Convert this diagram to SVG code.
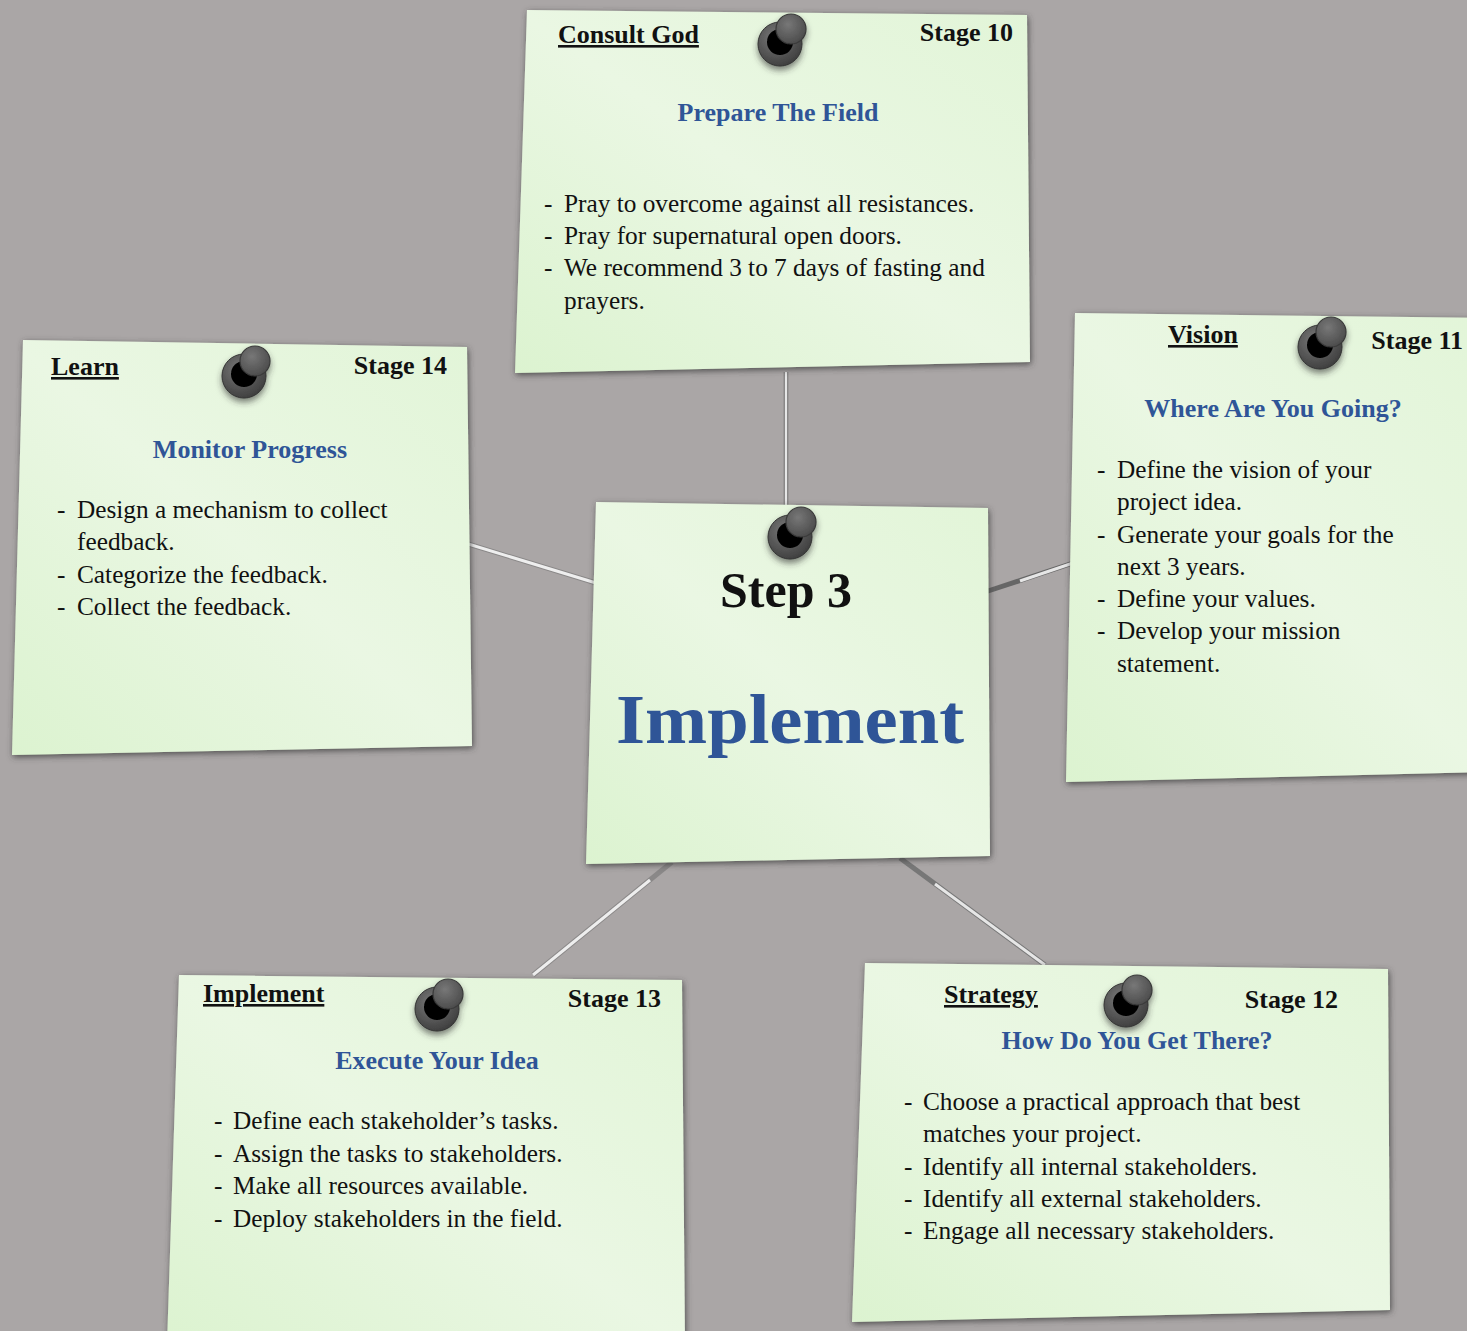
<svg xmlns="http://www.w3.org/2000/svg" width="1467" height="1331" viewBox="0 0 1467 1331">
<style>
  .note{fill:url(#paper);filter:url(#shadow)}
  .t{font-family:"Liberation Serif",serif;fill:#111}
  .hd{font-size:26px;font-weight:bold;text-decoration:underline}
  .st{font-size:26px;font-weight:bold;text-anchor:end}
  .ti{font-size:26px;font-weight:bold;fill:#2f5597;text-anchor:middle}
  .big{font-size:70px;font-weight:bold;fill:#2f5597;text-anchor:middle}
  .b{font-size:25.3px}
  .con{stroke-linecap:butt;fill:none}
</style>
<defs>
  <linearGradient id="paper" x1="0" y1="1" x2="1" y2="0">
    <stop offset="0" stop-color="#dcf3d0"/>
    <stop offset="0.5" stop-color="#eaf7e3"/>
    <stop offset="1" stop-color="#e2f5d8"/>
  </linearGradient>
  <filter id="shadow" x="-10%" y="-10%" width="120%" height="120%">
    <feDropShadow dx="1" dy="2" stdDeviation="3" flood-color="#3e3c3c" flood-opacity="0.85"/>
  </filter>
  <radialGradient id="ring" cx="0.4" cy="0.35" r="0.7">
    <stop offset="0" stop-color="#7a7a7a"/>
    <stop offset="1" stop-color="#3c3c3c"/>
  </radialGradient>
  <radialGradient id="knob" cx="0.4" cy="0.35" r="0.7">
    <stop offset="0" stop-color="#777"/>
    <stop offset="1" stop-color="#4a4a4a"/>
  </radialGradient>
  <filter id="pinsh" x="-50%" y="-50%" width="200%" height="200%">
    <feDropShadow dx="0" dy="4" stdDeviation="3" flood-color="#333" flood-opacity="0.6"/>
  </filter>
  <g id="pin" filter="url(#pinsh)">
    <circle cx="0" cy="0" r="22" fill="url(#ring)" stroke="#333" stroke-width="1"/>
    <circle cx="0" cy="-2" r="13" fill="#000"/>
    <circle cx="11" cy="-15" r="15" fill="url(#knob)" stroke="#3a3a3a" stroke-width="1.2"/>
  </g>
</defs>
<rect width="1467" height="1331" fill="#aaa6a6"/>

<g id="connectors">
  <line class="con" x1="786" y1="372" x2="786" y2="510" stroke="#8a8888" stroke-width="5"/>
  <line class="con" x1="786" y1="372" x2="786" y2="510" stroke="#e6e6e6" stroke-width="2"/>
  <line class="con" x1="465" y1="543" x2="596" y2="583" stroke="#8a8888" stroke-width="5"/>
  <line class="con" x1="465" y1="543" x2="596" y2="583" stroke="#eeeeee" stroke-width="3"/>
  <line class="con" x1="985" y1="592" x2="1076" y2="562" stroke="#666" stroke-width="5"/>
  <line class="con" x1="1020" y1="581" x2="1076" y2="562" stroke="#e6e6e6" stroke-width="3"/>
  <line class="con" x1="672" y1="862" x2="533" y2="975" stroke="#8a8888" stroke-width="5"/>
  <line class="con" x1="650" y1="880" x2="533" y2="975" stroke="#eeeeee" stroke-width="3"/>
  <line class="con" x1="900" y1="858" x2="1045" y2="965" stroke="#777" stroke-width="5"/>
  <line class="con" x1="935" y1="884" x2="1045" y2="965" stroke="#e6e6e6" stroke-width="3"/>
</g>

<g id="node-stage10">
  <polygon class="note" points="527,10 1027,15 1030,362 515,373"/>
  <text class="t hd" x="558" y="43">Consult God</text>
  <text class="t st" x="1013" y="41">Stage 10</text>
  <text class="t ti" x="778" y="121">Prepare The Field</text>
  <text class="t b" x="544" y="212">-</text><text class="t b" x="564" y="212">Pray to overcome against all resistances.</text>
  <text class="t b" x="544" y="244">-</text><text class="t b" x="564" y="244">Pray for supernatural open doors.</text>
  <text class="t b" x="544" y="276">-</text><text class="t b" x="564" y="276">We recommend 3 to 7 days of fasting and</text>
  <text class="t b" x="564" y="309">prayers.</text>
  <use href="#pin" x="780" y="44"/>
</g>

<g id="node-stage14">
  <polygon class="note" points="23,340 467,347 472,746 12,755"/>
  <text class="t hd" x="51" y="375">Learn</text>
  <text class="t st" x="447" y="374">Stage 14</text>
  <text class="t ti" x="250" y="458">Monitor Progress</text>
  <text class="t b" x="57" y="518">-</text><text class="t b" x="77" y="518">Design a mechanism to collect</text>
  <text class="t b" x="77" y="550">feedback.</text>
  <text class="t b" x="57" y="583">-</text><text class="t b" x="77" y="583">Categorize the feedback.</text>
  <text class="t b" x="57" y="615">-</text><text class="t b" x="77" y="615">Collect the feedback.</text>
  <use href="#pin" x="244" y="376"/>
</g>

<g id="node-stage11">
  <polygon class="note" points="1075,313 1490,318 1490,772 1066,782"/>
  <text class="t hd" x="1168" y="343">Vision</text>
  <text class="t st" x="1463" y="349">Stage 11</text>
  <text class="t ti" x="1273" y="417">Where Are You Going?</text>
  <text class="t b" x="1097" y="478">-</text><text class="t b" x="1117" y="478">Define the vision of your</text>
  <text class="t b" x="1117" y="510">project idea.</text>
  <text class="t b" x="1097" y="543">-</text><text class="t b" x="1117" y="543">Generate your goals for the</text>
  <text class="t b" x="1117" y="575">next 3 years.</text>
  <text class="t b" x="1097" y="607">-</text><text class="t b" x="1117" y="607">Define your values.</text>
  <text class="t b" x="1097" y="639">-</text><text class="t b" x="1117" y="639">Develop your mission</text>
  <text class="t b" x="1117" y="672">statement.</text>
  <use href="#pin" x="1320" y="347"/>
</g>

<g id="node-stage13">
  <polygon class="note" points="179,975 682,980 685,1345 167,1345"/>
  <text class="t hd" x="203" y="1002">Implement</text>
  <text class="t st" x="661" y="1007">Stage 13</text>
  <text class="t ti" x="437" y="1069">Execute Your Idea</text>
  <text class="t b" x="214" y="1129">-</text><text class="t b" x="233" y="1129">Define each stakeholder’s tasks.</text>
  <text class="t b" x="214" y="1162">-</text><text class="t b" x="233" y="1162">Assign the tasks to stakeholders.</text>
  <text class="t b" x="214" y="1194">-</text><text class="t b" x="233" y="1194">Make all resources available.</text>
  <text class="t b" x="214" y="1227">-</text><text class="t b" x="233" y="1227">Deploy stakeholders in the field.</text>
  <use href="#pin" x="437" y="1009"/>
</g>

<g id="node-stage12">
  <polygon class="note" points="865,963 1388,969 1390,1310 852,1322"/>
  <text class="t hd" x="944" y="1003">Strategy</text>
  <text class="t st" x="1338" y="1008">Stage 12</text>
  <text class="t ti" x="1137" y="1049">How Do You Get There?</text>
  <text class="t b" x="904" y="1110">-</text><text class="t b" x="923" y="1110">Choose a practical approach that best</text>
  <text class="t b" x="923" y="1142">matches your project.</text>
  <text class="t b" x="904" y="1175">-</text><text class="t b" x="923" y="1175">Identify all internal stakeholders.</text>
  <text class="t b" x="904" y="1207">-</text><text class="t b" x="923" y="1207">Identify all external stakeholders.</text>
  <text class="t b" x="904" y="1239">-</text><text class="t b" x="923" y="1239">Engage all necessary stakeholders.</text>
  <use href="#pin" x="1126" y="1005"/>
</g>

<g id="node-step3">
  <polygon class="note" points="596,502 988,508 990,856 586,864"/>
  <text class="t" x="786" y="607" font-size="50" font-weight="bold" text-anchor="middle">Step 3</text>
  <text class="t big" x="790" y="743" textLength="348" lengthAdjust="spacingAndGlyphs">Implement</text>
  <use href="#pin" x="790" y="537"/>
</g>
</svg>
